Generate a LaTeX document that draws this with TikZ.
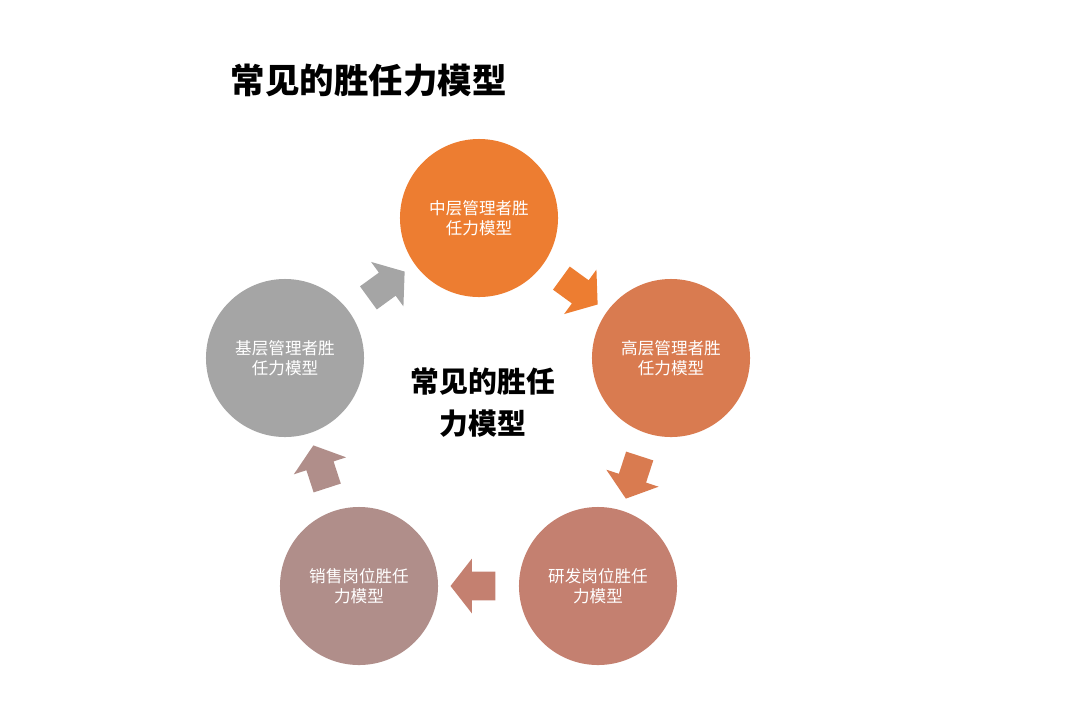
\documentclass[tikz,border=0pt]{standalone}
\usepackage{fontspec}
\setmainfont{Noto Sans CJK SC}
\usetikzlibrary{shapes.arrows,calc}

\definecolor{cOrange}{HTML}{ED7D31}
\definecolor{cCopper}{HTML}{D97B50}
\definecolor{cClay}{HTML}{C48070}
\definecolor{cRose}{HTML}{B08E8A}
\definecolor{cGray}{HTML}{A5A5A5}

\begin{document}
\begin{tikzpicture}[
x=0.025cm, y=-0.025cm,
stage/.style={circle, fill=#1, text=white, minimum size=3.95cm, inner sep=0pt,
  align=center, font=\fontsize{11.8}{14.5}\selectfont},
flow/.style={single arrow, fill=#1, draw=none, minimum height=1.12cm,
  inner xsep=0pt, inner ysep=0.35cm, single arrow head extend=0.33cm,
  single arrow tip angle=104}
]
\useasboundingbox (0,0) rectangle (1080,700);

\node[font=\fontsize{24.5}{28}\selectfont\bfseries, anchor=west] (title) at (226,80) {常见的胜任力模型};

\node[stage=cOrange] (mid) at (479,218) {中层管理者胜\\任力模型};
\node[stage=cCopper] (high) at (671,358) {高层管理者胜\\任力模型};
\node[stage=cClay] (rnd) at (598,586) {研发岗位胜任\\力模型};
\node[stage=cRose] (sales) at (359,586) {销售岗位胜任\\力模型};
\node[stage=cGray] (base) at (285,358) {基层管理者胜\\任力模型};

\node[font=\fontsize{20.5}{30}\selectfont\bfseries, align=center] (core) at (483,403) {常见的胜任\\力模型};

% block arrows between the stages
\node[flow=cOrange, rotate=-36] (a1) at ($(mid)!0.5!(high)$) {};
\node[flow=cCopper, rotate=-108] (a2) at ($(high)!0.5!(rnd)$) {};
\node[flow=cClay, rotate=180] (a3) at ($(rnd)!0.5!(sales)$) {};
\node[flow=cRose, rotate=108] (a4) at ($(sales)!0.5!(base)$) {};
\node[flow=cGray, rotate=36] (a5) at ($(base)!0.5!(mid)$) {};
\end{tikzpicture}
\end{document}
